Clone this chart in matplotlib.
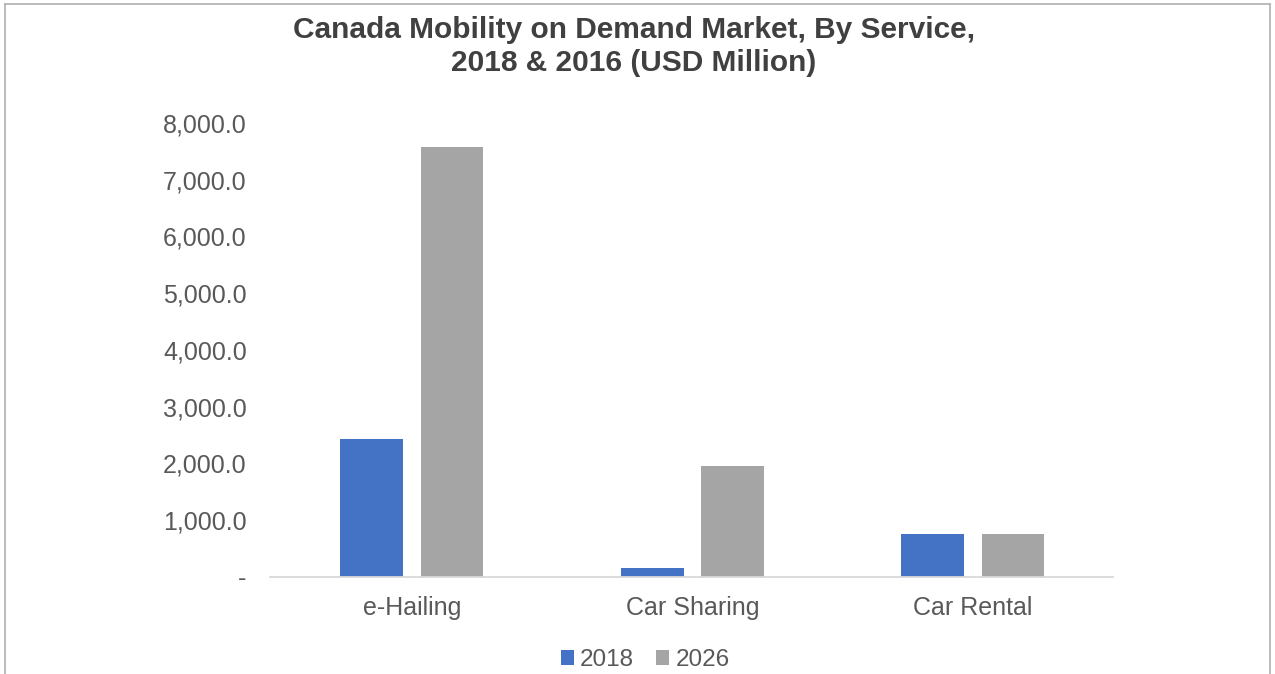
import matplotlib
matplotlib.use("Agg")
import matplotlib.pyplot as plt
from matplotlib.lines import Line2D
from matplotlib.ticker import FuncFormatter
import numpy as np

plt.rcParams['font.family'] = ['Liberation Sans', 'DejaVu Sans']

# data
services = ["e-Hailing", "Car Sharing", "Car Rental"]
years = ["2018", "2026"]
vals_2018 = [2430, 160, 760]
vals_2026 = [7580, 1960, 760]
yticks = [0, 1000, 2000, 3000, 4000, 5000, 6000, 7000, 8000]

blue = "#4472C4"
grey = "#A5A5A5"
txt = "#595959"

fig = plt.figure(figsize=(12.75, 6.74), dpi=100)
ax = fig.add_axes([0.212, 0.144, 0.661, 0.6735])

x = np.arange(len(services))
w = 0.224
ax.bar(x - 0.143, vals_2018, w, color=blue, label=years[0])
ax.bar(x + 0.143, vals_2026, w, color=grey, label=years[1])

ax.set_xlim(-0.505, 2.5)
ax.set_ylim(0, 8000)
ax.set_yticks(yticks)
ax.yaxis.set_major_formatter(FuncFormatter(lambda v, p: "-" if v == 0 else f"{v:,.1f}"))
ax.set_xticks(x)
ax.set_xticklabels(services)
ax.tick_params(axis="y", length=0, pad=17, labelsize=18, labelcolor=txt)
ax.tick_params(axis="x", length=0, pad=14, labelsize=18, labelcolor=txt)

for s in ["top", "right", "left"]:
    ax.spines[s].set_visible(False)
ax.spines["bottom"].set_color("#d9d9d9")
ax.spines["bottom"].set_linewidth(1.3)

fig.text(0.497, 0.931, "Canada Mobility on Demand Market, By Service,\n2018 & 2016 (USD Million)",
         ha="center", va="center", fontsize=21.5, fontweight="bold", color="#404040",
         linespacing=1.22)

fig.legend(loc="center", bbox_to_anchor=(0.506, 0.021), ncol=2, frameon=False,
           fontsize=17.5, labelcolor=txt, handlelength=0.55, handleheight=0.55,
           handletextpad=0.25, columnspacing=0.9)

# outer frame of the image
fc = "#b0b0b0"
fig.add_artist(Line2D([0.004, 0.996], [0.994, 0.994], color=fc, lw=1.2, transform=fig.transFigure))
fig.add_artist(Line2D([0.004, 0.004], [0.0, 0.994], color=fc, lw=1.2, transform=fig.transFigure))
fig.add_artist(Line2D([0.996, 0.996], [0.0, 0.994], color=fc, lw=1.2, transform=fig.transFigure))

fig.savefig("out.png", dpi=100)
